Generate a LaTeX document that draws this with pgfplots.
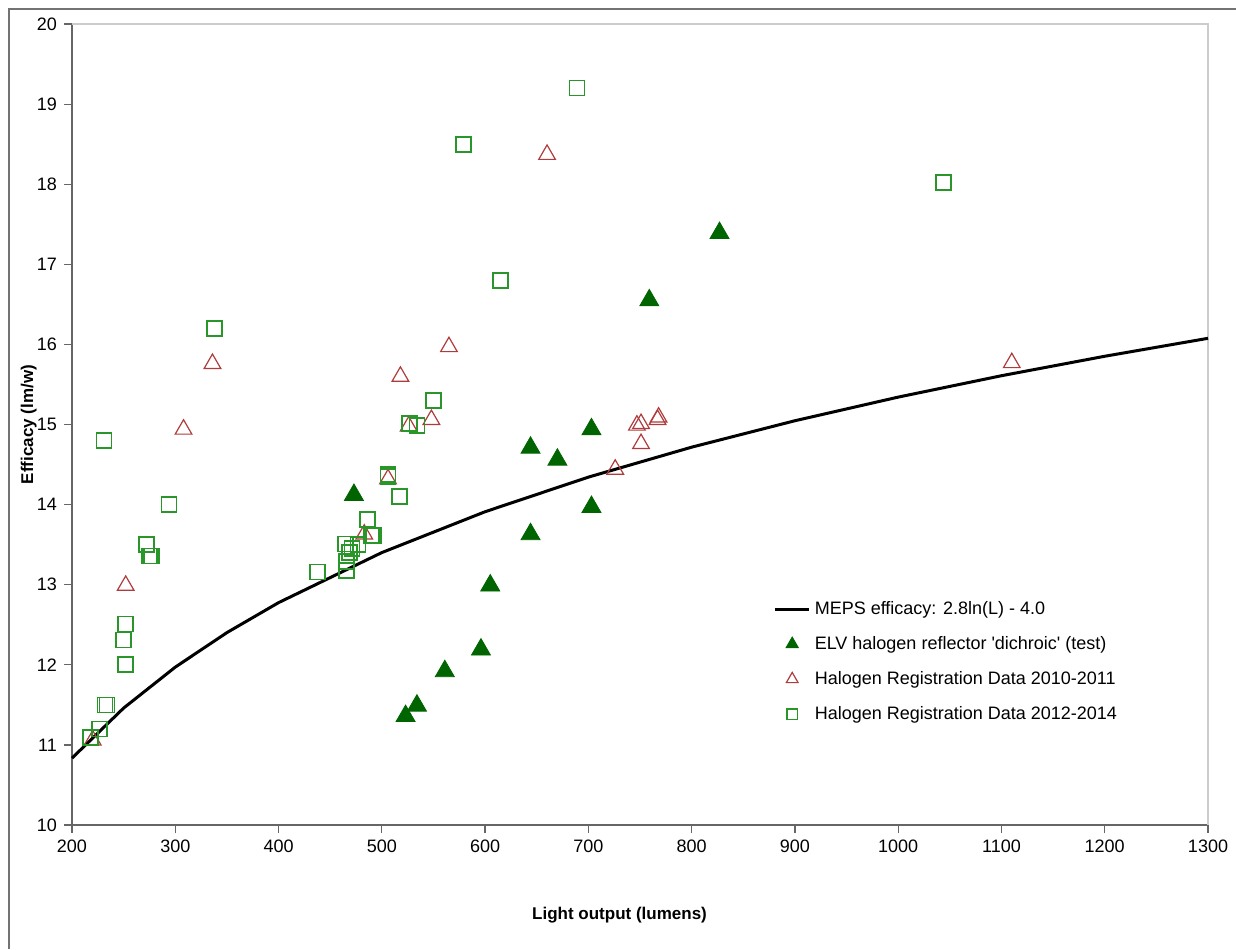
\documentclass[border=0pt]{standalone}
\usepackage{pgfplots}
\pgfplotsset{compat=1.18}
\usepackage{fontspec}
\setmainfont{Liberation Sans}
\definecolor{dgreen}{RGB}{0,100,0}
\definecolor{sqgreen}{RGB}{40,150,40}
\definecolor{tred}{RGB}{175,60,60}
\begin{document}
\begin{tikzpicture}
\begin{axis}[
 scale only axis, width=568pt, height=400.5pt,
 xmin=200, xmax=1300, ymin=10, ymax=20,
 xtick={200,300,...,1300}, ytick={10,11,...,20},
 axis x line*=bottom, axis y line*=left,
 axis line style={-, draw=black!60, line width=0.6pt},
 tick align=outside, major tick length=4pt,
 tick style={black!60, line width=0.6pt},
 /pgf/number format/assume math mode=true,
 /pgf/number format/set thousands separator={},
 ticklabel style={font=\fontsize{9}{10}\selectfont},
 xlabel={\textbf{Light output (lumens)}},
 ylabel={\textbf{Efficacy (lm/w)}},
 label style={font=\fontsize{8.5}{10}\selectfont},
 xlabel style={at={(axis description cs:0.482,-0.112)}, anchor=center},
 ylabel style={at={(axis description cs:-0.038,0.5)}, anchor=center},
 legend style={at={(axis description cs:0.612,0.29)}, anchor=north west, draw=none, fill=none,
   font=\fontsize{9}{10.5}\selectfont, row sep=5.5pt},
 legend cell align=left,
 clip=false,
]
\draw[black!20, line width=0.6pt] (rel axis cs:0,1) -- (rel axis cs:1,1) -- (rel axis cs:1,0);
\addplot[black, line width=1.5pt, mark=none] coordinates {
 (200,10.835) (250,11.460) (300,11.971) (350,12.402) (400,12.776) (500,13.401)
 (600,13.911) (700,14.343) (800,14.717) (900,15.047) (1000,15.342) (1100,15.609)
 (1200,15.852) (1300,16.076)};
\addlegendentry{MEPS efficacy: 2.8ln(L) - 4.0}
\addplot[only marks, mark=triangle*, mark size=5.5pt, color=dgreen, mark options={fill=dgreen},
 legend image post style={mark size=3.6pt}] coordinates {
 (827,17.39) (759,16.55) (703,14.94) (644,14.71) (670,14.56) (703,13.97) (644,13.63)
 (605,12.99) (596,12.19) (561,11.92) (534,11.49) (523,11.36) (473,14.12)};
\addlegendentry{ELV halogen reflector \textquotesingle dichroic\textquotesingle\ (test)}
\addplot[only marks, mark=triangle, mark size=4.8pt, color=tred, mark options={line width=0.6pt},
 legend image post style={mark size=3.4pt}] coordinates {
 (660,18.37) (565,15.97) (336,15.76) (1110,15.77) (518,15.60) (548,15.06) (526,14.98)
 (308,14.94) (751,15.01) (747,14.99) (751,14.76) (768,15.09) (767,15.06) (726,14.44)
 (506,14.32) (483,13.63) (252,12.99) (220,11.06)};
\addlegendentry{Halogen Registration Data 2010-2011}
\addplot[only marks, mark=square, mark size=3.75pt, color=sqgreen, mark options={line width=0.85pt},
 legend image post style={mark size=2.6pt, mark options={line width=0.6pt}}] coordinates {
 (689,19.2) (579,18.5) (1044,18.02) (615,16.8) (338,16.2) (550,15.3) (527,15.01) (534,14.99)
 (231,14.8) (506,14.38) (506,14.35) (517,14.1) (294,14.0) (486,13.81) (490,13.61) (492,13.61)
 (465,13.51) (477,13.5) (471,13.45) (469,13.4) (466,13.29) (466,13.18) (438,13.16)
 (272,13.5) (277,13.36) (275,13.36) (252,12.51) (250,12.31) (252,12.0) (232,11.5) (234,11.5)
 (226.5,11.2) (218,11.09)};
\addlegendentry{Halogen Registration Data 2012-2014}
\end{axis}
\draw[black!55, line width=0.8pt] (-31.5pt,-62pt) -- (-31.5pt,408pt) -- (582pt,408pt);
\pgfresetboundingbox
\path[use as bounding box] (-36pt,-62pt) rectangle (582pt,412.5pt);
\end{tikzpicture}
\end{document}
